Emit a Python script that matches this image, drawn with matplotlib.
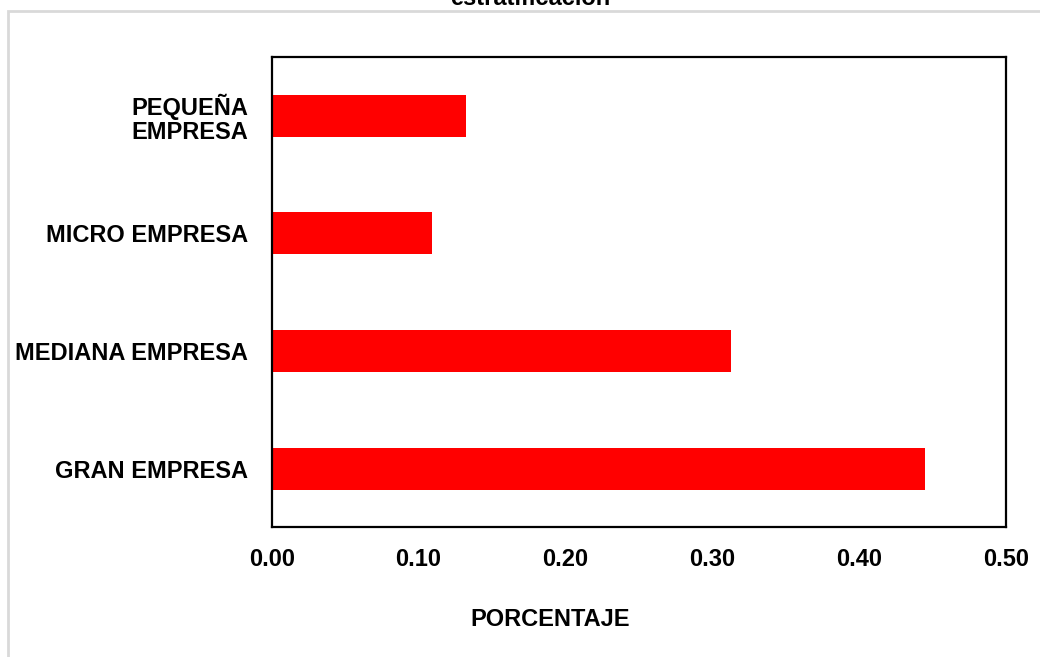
import matplotlib
matplotlib.use("Agg")
import matplotlib.pyplot as plt
from matplotlib.patches import Rectangle

categories = ["GRAN EMPRESA", "MEDIANA EMPRESA", "MICRO EMPRESA", "PEQUEÑA\nEMPRESA"]
values = [0.445, 0.313, 0.109, 0.132]
xticks = [0.0, 0.1, 0.2, 0.3, 0.4, 0.5]
xtick_labels = ["0.00", "0.10", "0.20", "0.30", "0.40", "0.50"]
title_tail = "estratificación"
xlabel = "PORCENTAJE"

plt.rcParams['font.family'] = ['Liberation Sans', 'DejaVu Sans']

W, H = 1040, 657
fig = plt.figure(figsize=(W / 100, H / 100), dpi=100)
fig.patch.set_facecolor("white")

# outer gray chart border (partially outside the image)
fig.patches.append(Rectangle((8 / W, -0.1), 1.2, 1 - 11 / H + 0.1,
                             transform=fig.transFigure, fill=False,
                             edgecolor="#d9d9d9", linewidth=2))

left, right, top, bottom = 271.7, 1006, 57.3, 527
ax = fig.add_axes([left / W, 1 - bottom / H, (right - left) / W, (bottom - top) / H])

ypos = list(range(len(categories)))
ax.barh(ypos, values, height=0.356, color="#ff0000", edgecolor="none")

ax.set_xlim(0, 0.5)
ax.set_ylim(-0.49, 3.494)
ax.set_xticks(xticks)
ax.set_xticklabels(xtick_labels, fontsize=17, fontweight="bold")
ax.set_yticks(ypos)
ax.set_yticklabels(categories, fontsize=17, fontweight="bold", linespacing=1.05)
ax.tick_params(axis="both", length=0)
ax.tick_params(axis="x", pad=15)
ax.tick_params(axis="y", pad=17)
for s in ax.spines.values():
    s.set_linewidth(1.6)
    s.set_color("black")

fig.text(550 / W, 1 - 620 / H, xlabel, ha="center", va="center",
         fontsize=17, fontweight="bold")
fig.text(530 / W, 1 - 5 / H, title_tail, ha="center", va="baseline",
         fontsize=17, fontweight="bold")

fig.savefig("out.png", dpi=100)
